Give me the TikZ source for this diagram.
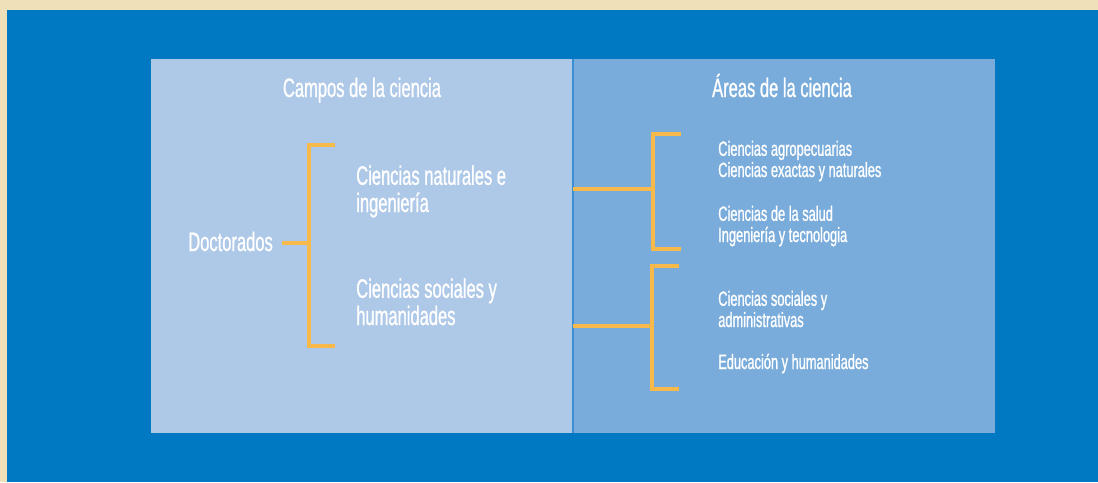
\documentclass[tikz,border=0pt]{standalone}
\usepackage{fontspec}
\setmainfont[FakeStretch=0.62, FakeBold=0.9]{Liberation Sans}
\usetikzlibrary{positioning}
\definecolor{paper}{HTML}{EFE0BA}
\definecolor{deepblue}{HTML}{0079C2}
\definecolor{paleblue}{HTML}{AEC8E8}
\definecolor{midblue}{HTML}{7AACDB}
\definecolor{seam}{HTML}{3A8ED2}
\definecolor{gold}{HTML}{F6B94A}

\begin{document}
\begin{tikzpicture}[
    x=0.75pt, y=-0.75pt,
    bigtext/.style={
        text=white,
        inner sep=0pt,
        align=left,
        font=\fontsize{20}{20.4}\selectfont
    },
    smalltext/.style={
        text=white,
        inner sep=0pt,
        align=left,
        font=\fontsize{15.5}{15.9}\selectfont
    },
    brace/.style={draw=gold, line width=2.4pt}
]

% Background
\fill[paper] (0,0) rectangle (1098,482);
\fill[deepblue] (7,10) rectangle (1098,482);
\useasboundingbox (0,0) rectangle (1098,482);

% Panels
\fill[paleblue] (151,59) rectangle (573,433);
\fill[midblue] (573,59) rectangle (995,433);
\draw[seam, line width=0.8pt] (573,59) -- (573,433);

% Titles
\node (campos) [bigtext, anchor=base] at (362,97) {Campos de la ciencia};
\node (areas) [bigtext, anchor=base] at (782,97) {Áreas de la ciencia};

% Campos (base = last line)
\node (doc) [bigtext, anchor=base west] at (188,251) {Doctorados};
\node (nat) [bigtext, anchor=base west] at (356,212) {Ciencias naturales e\\ingeniería};
\node (soc) [bigtext, anchor=base west] at (356,325) {Ciencias sociales y\\humanidades};

% Areas
\node (agro) [smalltext, anchor=base west] at (718,177) {Ciencias agropecuarias\\Ciencias exactas y naturales};
\node (salud) [smalltext, anchor=base west] at (718,242) {Ciencias de la salud\\Ingeniería y tecnologia};
\node (admin) [smalltext, anchor=base west] at (718,327) {Ciencias sociales y\\administrativas};
\node (edu) [smalltext, anchor=base west] at (718,369) {Educación y humanidades};

% Brackets
\coordinate (b0) at (309,243);
\coordinate (b1) at (653,189);
\coordinate (b2) at (652,326);
\draw[brace] (335,145) -| (309,346) -- (335,346);
\draw[brace] (681,134) -| (653,249) -- (681,249);
\draw[brace] (679,266) -| (652,389) -- (679,389);

% Connections
\draw[brace] ([xshift=6.75pt]doc.east |- b0) -- (b0);
\draw[brace] (573,189) -- (b1);
\draw[brace] (573,326) -- (b2);

\end{tikzpicture}
\end{document}
